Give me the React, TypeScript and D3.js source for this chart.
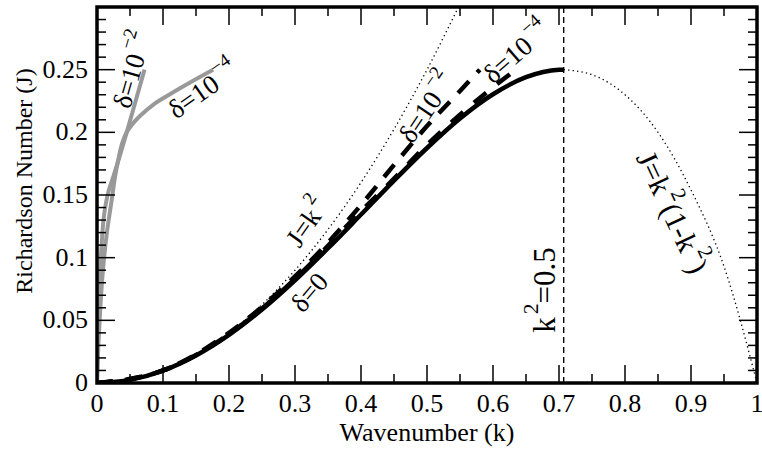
import React from "react";
import * as d3 from "d3";

// neutral curve, delta = 0
const k0 = [0, 0.05, 0.1, 0.15, 0.2, 0.25, 0.3, 0.35, 0.4, 0.45, 0.5, 0.55, 0.6, 0.65, 0.7, 0.707];
const j0 = [0, 0.0025, 0.0099, 0.022, 0.0384, 0.0586, 0.0819, 0.1075, 0.1344, 0.1615, 0.1875, 0.2111, 0.2304, 0.244, 0.2499, 0.25];

// dotted J = k^2
const kSq = [0, 0.05, 0.1, 0.15, 0.2, 0.25, 0.3, 0.35, 0.4, 0.45, 0.5, 0.55];
const jSq = [0, 0.0025, 0.01, 0.0225, 0.04, 0.0625, 0.09, 0.1225, 0.16, 0.2025, 0.25, 0.3025];

// dotted J = k^2(1-k^2), right branch
const kRight = [0.707, 0.75, 0.8, 0.85, 0.9, 0.95, 1];
const jRight = [0.25, 0.246, 0.23, 0.2, 0.154, 0.093, 0];

// dashed, delta = 1e-2 and 1e-4
const kD2 = [0, 0.1, 0.2, 0.3, 0.35, 0.4, 0.45, 0.5, 0.55, 0.58];
const jD2 = [0, 0.01, 0.04, 0.085, 0.112, 0.142, 0.174, 0.205, 0.233, 0.25];
const kD4 = [0, 0.1, 0.2, 0.3, 0.4, 0.45, 0.5, 0.55, 0.6, 0.635];
const jD4 = [0, 0.01, 0.039, 0.083, 0.137, 0.163, 0.19, 0.214, 0.236, 0.25];

// grey curves near k = 0
const kG2 = [0, 0.002, 0.004, 0.007, 0.011, 0.017, 0.025, 0.035, 0.045, 0.058, 0.072];
const jG2 = [0, 0.04, 0.08, 0.11, 0.135, 0.152, 0.165, 0.182, 0.2, 0.224, 0.25];
const kG4 = [0, 0.002, 0.005, 0.009, 0.015, 0.022, 0.03, 0.045, 0.065, 0.085, 0.106, 0.145, 0.176];
const jG4 = [0, 0.03, 0.06, 0.09, 0.12, 0.145, 0.172, 0.2, 0.213, 0.222, 0.229, 0.241, 0.25];

const xTickLabels = ["0", "0.1", "0.2", "0.3", "0.4", "0.5", "0.6", "0.7", "0.8", "0.9", "1"];
const yTickLabels = ["0", "0.05", "0.1", "0.15", "0.2", "0.25"];

const width = 762;
const height = 451;
const margin = { top: 7, right: 5, bottom: 68, left: 97 };
const font = "'Liberation Serif', 'Times New Roman', serif";

const x = d3.scaleLinear().domain([0, 1]).range([margin.left, width - margin.right]);
const y = d3.scaleLinear().domain([0, 0.3]).range([height - margin.bottom, margin.top]);

const line = d3
  .line<[number, number]>()
  .x((d) => x(d[0]))
  .y((d) => y(d[1]))
  .curve(d3.curveMonotoneX);

const lineY = d3
  .line<[number, number]>()
  .x((d) => x(d[0]))
  .y((d) => y(d[1]))
  .curve(d3.curveMonotoneY);

const zip = (a: number[], b: number[]) => a.map((v, i) => [v, b[i]] as [number, number]);

// parts: [text, isSup]
const Label = ({ k, j, angle, parts, size = 27 }: any) => {
  const sup = size * 0.7;
  const rise = size * 0.55;
  let up = false;
  return (
    <text
      transform={`translate(${x(k)},${y(j)}) rotate(${angle})`}
      fontFamily={font}
      fontSize={size}
    >
      {parts.map(([t, s]: [string, boolean], i: number) => {
        let dy = 0;
        if (s && !up) dy = -rise;
        if (!s && up) dy = rise;
        up = s;
        return (
          <tspan key={i} fontSize={s ? sup : size} dy={dy} dx={s ? 3 : 0}>
            {t}
          </tspan>
        );
      })}
    </text>
  );
};

const App = () => {
  const x0 = x(0), x1 = x(1), y0 = y(0), y1 = y(0.3);
  const xMajor = d3.range(0, 11).map((i) => i / 10);
  const xMinor = d3.range(0, 10).map((i) => i / 10 + 0.05);
  const yMajor = d3.range(0, 7).map((i) => i * 0.05);
  const yMinor = d3.range(0, 31).map((i) => i / 100).filter((v) => Math.round(v * 100) % 5 !== 0);

  return (
    <svg
      width={width}
      height={height}
      style={{ position: "absolute", left: 0, top: 0, background: "#fff" }}
    >
      <defs>
        <clipPath id="plot">
          <rect x={x0} y={y1} width={x1 - x0} height={y0 - y1} />
        </clipPath>
      </defs>

      <g clipPath="url(#plot)" fill="none">
        <path d={line(zip(kSq, jSq))!} stroke="#000" strokeWidth={1.3} strokeDasharray="1.3,3.2" />
        <path d={line(zip(kRight, jRight))!} stroke="#000" strokeWidth={1.3} strokeDasharray="1.3,3.2" />
        <line x1={x(0.7071)} x2={x(0.7071)} y1={y0} y2={y1} stroke="#000" strokeWidth={1.4} strokeDasharray="6,4" />
        <path d={lineY(zip(kG2, jG2))!} stroke="#999" strokeWidth={4} />
        <path d={lineY(zip(kG4, jG4))!} stroke="#999" strokeWidth={4} />
        <path d={line(zip(kD2, jD2))!} stroke="#000" strokeWidth={4.5} strokeDasharray="16,12" />
        <path d={line(zip(kD4, jD4))!} stroke="#000" strokeWidth={4.5} strokeDasharray="16,14" />
        <path d={line(zip(k0, j0))!} stroke="#000" strokeWidth={4.5} />
      </g>

      {/* ticks */}
      <g stroke="#000" strokeWidth={1.5}>
        {xMajor.map((v) => (
          <g key={"xM" + v}>
            <line x1={x(v)} x2={x(v)} y1={y0} y2={y0 - 18} />
            <line x1={x(v)} x2={x(v)} y1={y1} y2={y1 + 18} />
          </g>
        ))}
        {xMinor.map((v) => (
          <g key={"xm" + v}>
            <line x1={x(v)} x2={x(v)} y1={y0} y2={y0 - 9} />
            <line x1={x(v)} x2={x(v)} y1={y1} y2={y1 + 9} />
          </g>
        ))}
        {yMajor.map((v) => (
          <g key={"yM" + v}>
            <line x1={x0} x2={x0 + 18} y1={y(v)} y2={y(v)} />
            <line x1={x1} x2={x1 - 18} y1={y(v)} y2={y(v)} />
          </g>
        ))}
        {yMinor.map((v) => (
          <g key={"ym" + v}>
            <line x1={x0} x2={x0 + 9} y1={y(v)} y2={y(v)} />
            <line x1={x1} x2={x1 - 9} y1={y(v)} y2={y(v)} />
          </g>
        ))}
      </g>

      <rect x={x0} y={y1} width={x1 - x0} height={y0 - y1} fill="none" stroke="#000" strokeWidth={3.5} />

      {/* tick labels */}
      <g fontFamily={font} fontSize={26} fill="#000">
        {xTickLabels.map((t, i) => (
          <text key={t} x={x(i / 10)} y={y0 + 29} textAnchor="middle">
            {t}
          </text>
        ))}
        {yTickLabels.map((t, i) => (
          <text key={t} x={x0 - 9} y={y(i * 0.05) + 8} textAnchor="end">
            {t}
          </text>
        ))}
      </g>

      {/* axis titles */}
      <text x={(x0 + x1) / 2} y={441} textAnchor="middle" fontFamily={font} fontSize={26}>
        Wavenumber (k)
      </text>
      <text
        transform="translate(32,181) rotate(-90)"
        textAnchor="middle"
        fontFamily={font}
        fontSize={24}
      >
        Richardson Number (J)
      </text>

      {/* curve labels */}
      <Label k={0.05} j={0.218} angle={-74} parts={[["δ=10", false], ["−2", true]]} />
      <Label k={0.12} j={0.21} angle={-35} parts={[["δ=10", false], ["−4", true]]} />
      <Label k={0.307} j={0.107} angle={-55} parts={[["J=k", false], ["2", true]]} />
      <Label k={0.312} j={0.055} angle={-50} parts={[["δ=0", false]]} />
      <Label k={0.478} j={0.19} angle={-56} parts={[["δ=10", false], ["−2", true]]} />
      <Label k={0.6} j={0.238} angle={-41} parts={[["δ=10", false], ["−4", true]]} />
      <Label k={0.694} j={0.04} angle={-90} size={31} parts={[["k", false], ["2", true], ["=0.5", false]]} />
      <Label
        k={0.816}
        j={0.18}
        angle={65}
        size={30}
        parts={[["J=k", false], ["2", true], ["(1-k", false], ["2", true], [")", false]]}
      />
    </svg>
  );
};

export default App;
